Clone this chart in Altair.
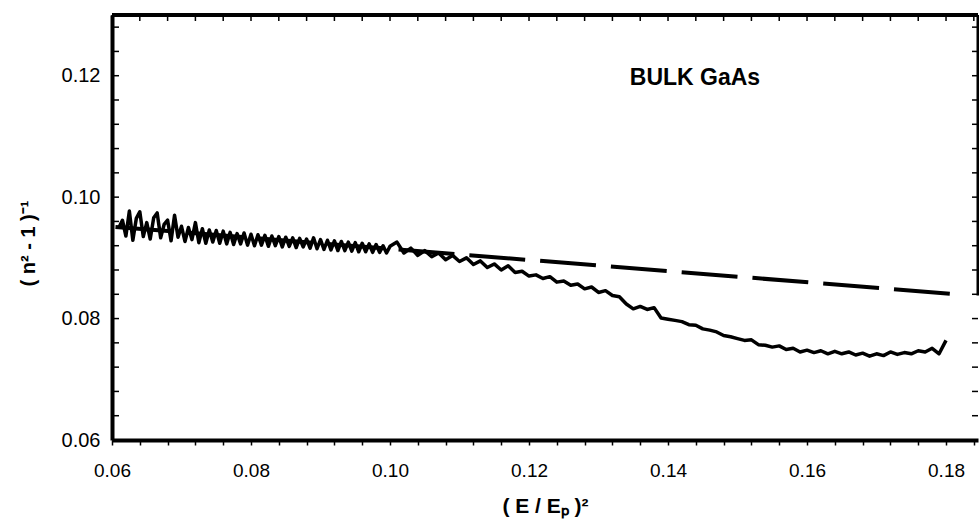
import altair as alt
import pandas as pd

# measured curve (E/Ep)^2 vs (n^2-1)^-1
x_vals = [
    0.0610, 0.0615, 0.0620, 0.0625, 0.0630, 0.0635, 0.0640, 0.0645, 0.0650, 0.0655,
    0.0660, 0.0665, 0.0670, 0.0675, 0.0680, 0.0685, 0.0690, 0.0695, 0.0700, 0.0705,
    0.0710, 0.0715, 0.0720, 0.0725, 0.0730, 0.0735, 0.0740, 0.0745, 0.0750, 0.0755,
    0.0760, 0.0765, 0.0770, 0.0775, 0.0780, 0.0785, 0.0790, 0.0795, 0.0800, 0.0805,
    0.0810, 0.0815, 0.0820, 0.0825, 0.0830, 0.0835, 0.0840, 0.0845, 0.0850, 0.0855,
    0.0860, 0.0865, 0.0870, 0.0875, 0.0880, 0.0885, 0.0890, 0.0895, 0.0900, 0.0905,
    0.0910, 0.0915, 0.0920, 0.0925, 0.0930, 0.0935, 0.0940, 0.0945, 0.0950, 0.0955,
    0.0960, 0.0965, 0.0970, 0.0975, 0.0980, 0.0985, 0.0990, 0.0995, 0.1000,
    0.101, 0.102, 0.103, 0.104, 0.105, 0.106, 0.107, 0.108, 0.109, 0.110,
    0.111, 0.112, 0.113, 0.114, 0.115, 0.116, 0.117, 0.118, 0.119, 0.120,
    0.121, 0.122, 0.123, 0.124, 0.125, 0.126, 0.127, 0.128, 0.129, 0.130,
    0.131, 0.132, 0.133, 0.134, 0.135, 0.136, 0.137, 0.138, 0.139, 0.140,
    0.141, 0.142, 0.143, 0.144, 0.145, 0.146, 0.147, 0.148, 0.149, 0.150,
    0.151, 0.152, 0.153, 0.154, 0.155, 0.156, 0.157, 0.158, 0.159, 0.160,
    0.161, 0.162, 0.163, 0.164, 0.165, 0.166, 0.167, 0.168, 0.169, 0.170,
    0.171, 0.172, 0.173, 0.174, 0.175, 0.176, 0.177, 0.178, 0.179, 0.180,
]
y_vals = [
    0.0950, 0.0962, 0.0936, 0.0977, 0.0929, 0.0965, 0.0976, 0.0935, 0.0958, 0.0931,
    0.0966, 0.0974, 0.0933, 0.0955, 0.0962, 0.0928, 0.0970, 0.0934, 0.0952, 0.0927,
    0.0950, 0.0930, 0.0958, 0.0925, 0.0948, 0.0924, 0.0946, 0.0926, 0.0945, 0.0924,
    0.0944, 0.0923, 0.0942, 0.0922, 0.0940, 0.0923, 0.0941, 0.0921, 0.0939, 0.0920,
    0.0938, 0.0921, 0.0937, 0.0919, 0.0936, 0.0920, 0.0935, 0.0918, 0.0934, 0.0919,
    0.0933, 0.0917, 0.0932, 0.0918, 0.0931, 0.0916, 0.0933, 0.0915, 0.0930, 0.0914,
    0.0929, 0.0913, 0.0928, 0.0912, 0.0927, 0.0912, 0.0926, 0.0911, 0.0925, 0.0910,
    0.0924, 0.0910, 0.0923, 0.0909, 0.0922, 0.0909, 0.0920, 0.0908, 0.0919,
    0.0926, 0.0908, 0.0916, 0.0904, 0.0912, 0.0902, 0.0908, 0.0897, 0.0904, 0.0894,
    0.0900, 0.0889, 0.0895, 0.0884, 0.0890, 0.0880, 0.0887, 0.0876, 0.0878, 0.0870,
    0.0872, 0.0866, 0.0869, 0.0860, 0.0862, 0.0855, 0.0857, 0.0849, 0.0852, 0.0843,
    0.0846, 0.0838, 0.0836, 0.0824, 0.0816, 0.0820, 0.0815, 0.0818, 0.0801, 0.0799,
    0.0797, 0.0795, 0.0790, 0.0789, 0.0783, 0.0781, 0.0778, 0.0772, 0.0770, 0.0767,
    0.0764, 0.0765, 0.0757, 0.0756, 0.0753, 0.0755, 0.0749, 0.0751, 0.0745, 0.0748,
    0.0744, 0.0747, 0.0742, 0.0746, 0.0742, 0.0745, 0.0740, 0.0743, 0.0738, 0.0742,
    0.0739, 0.0745, 0.0741, 0.0744, 0.0742, 0.0747, 0.0745, 0.0751, 0.0742, 0.0764,
]

# dashed linear fit (end points)
fit_x = [0.0605, 0.1806]
fit_y = [0.0951, 0.0841]

# annotation
ann_text = ["BULK GaAs"]
ann_x = [0.1345]
ann_y = [0.1185]

# axes
x_min, x_max = 0.06, 0.1846
y_min, y_max = 0.06, 0.13
x_ticks = [0.060, 0.064, 0.068, 0.072, 0.076, 0.080, 0.084, 0.088, 0.092, 0.096,
           0.100, 0.104, 0.108, 0.112, 0.116, 0.120, 0.124, 0.128, 0.132, 0.136,
           0.140, 0.144, 0.148, 0.152, 0.156, 0.160, 0.164, 0.168, 0.172, 0.176,
           0.180, 0.184]
y_ticks = [0.060, 0.064, 0.068, 0.072, 0.076, 0.080, 0.084, 0.088, 0.092, 0.096,
           0.100, 0.104, 0.108, 0.112, 0.116, 0.120, 0.124, 0.128]
y_labels = [0.06, 0.08, 0.10, 0.12]
right_border_from = 0.0838

FONT = "Liberation Sans"

data = pd.DataFrame({"x": x_vals, "y": y_vals})
fit = pd.DataFrame({"x": fit_x, "y": fit_y})
ann = pd.DataFrame({"x": ann_x, "y": ann_y, "t": ann_text})
xt = pd.DataFrame({"v": x_ticks})
yt = pd.DataFrame({"v": y_ticks})


def xs():
    return alt.Scale(domain=[x_min, x_max], nice=False, zero=False)


def ys():
    return alt.Scale(domain=[y_min, y_max], nice=False, zero=False)


label_expr = ("abs(datum.value*50 - round(datum.value*50)) < 0.01 ? "
              "format(datum.value, '.2f') : ''")

base_x = alt.X(
    "x:Q", scale=xs(),
    axis=alt.Axis(
        title="( E / Eₚ )²", values=x_ticks, labelExpr=label_expr,
        labelOverlap=False,
        grid=False, domainWidth=4, domainColor="black", tickColor="black",
        tickSize=5, tickWidth=1.5, labelFont=FONT, labelFontSize=19,
        labelColor="black", labelPadding=16, labelFlush=False,
        titleFont=FONT, titleFontSize=21, titleFontWeight="bold",
        titleColor="black", titleY=72, titleBaseline="alphabetic",
    ),
)
base_y = alt.Y(
    "y:Q", scale=ys(),
    axis=alt.Axis(
        title="( n² - 1 )⁻¹", values=y_labels, format=".2f",
        labelOverlap=False,
        grid=False, domainWidth=4, domainColor="black", ticks=False,
        labelFont=FONT, labelFontSize=20, labelColor="black",
        labelPadding=12, labelFlush=False,
        titleFont=FONT, titleFontSize=20, titleFontWeight="bold",
        titleColor="black", titleAngle=-90, titleX=-84, titleY=228,
        titleAlign="center", titleBaseline="middle",
    ),
)

curve = alt.Chart(data).mark_line(
    color="black", strokeWidth=3.5, strokeJoin="round"
).encode(x=base_x, y=base_y)

fit_line = alt.Chart(fit).mark_line(
    color="black", strokeWidth=4, strokeDash=[56, 15]
).encode(x=alt.X("x:Q", scale=xs(), axis=None),
         y=alt.Y("y:Q", scale=ys(), axis=None))

label = alt.Chart(ann).mark_text(
    align="left", baseline="alphabetic", fontWeight="bold",
    fontSize=23, font=FONT, color="black"
).encode(x=alt.X("x:Q", scale=xs(), axis=None),
         y=alt.Y("y:Q", scale=ys(), axis=None), text="t:N")

# top border
top_border = alt.Chart(pd.DataFrame({"a": [0]})).mark_rule(
    color="black", strokeWidth=4
).encode(
    x=alt.XDatum(x_min, scale=xs(), axis=None), x2=alt.datum(x_max),
    y=alt.YDatum(y_max, scale=ys(), axis=None),
)
# partial right border
right_border = alt.Chart(pd.DataFrame({"a": [0]})).mark_rule(
    color="black", strokeWidth=3
).encode(
    x=alt.XDatum(x_max, scale=xs(), axis=None),
    y=alt.YDatum(right_border_from, scale=ys(), axis=None), y2=alt.datum(y_max),
)

# inward ticks
left_ticks = alt.Chart(yt).mark_rule(color="black", strokeWidth=1.5, x2Offset=7).encode(
    x=alt.XDatum(x_min, scale=xs(), axis=None), x2=alt.datum(x_min),
    y=alt.Y("v:Q", scale=ys(), axis=None),
)
right_ticks = alt.Chart(yt).mark_rule(color="black", strokeWidth=1.5, x2Offset=-6).encode(
    x=alt.XDatum(x_max, scale=xs(), axis=None), x2=alt.datum(x_max),
    y=alt.Y("v:Q", scale=ys(), axis=None),
)
top_ticks = alt.Chart(xt).mark_rule(color="black", strokeWidth=1.5, y2Offset=6).encode(
    x=alt.X("v:Q", scale=xs(), axis=None),
    y=alt.YDatum(y_max, scale=ys(), axis=None), y2=alt.datum(y_max),
)

chart = alt.layer(
    curve, fit_line, label, top_border, right_border, left_ticks, right_ticks, top_ticks
).resolve_scale(
    x="independent", y="independent"
).resolve_axis(
    x="independent", y="independent"
).properties(
    width=866, height=425,
    autosize=alt.AutoSizeParams(type="none"),
    padding={"left": 112, "top": 15, "right": 1, "bottom": 81},
    background="white",
).configure_view(stroke=None)

chart.save("out.html", embed_options={"renderer": "svg", "actions": False})
